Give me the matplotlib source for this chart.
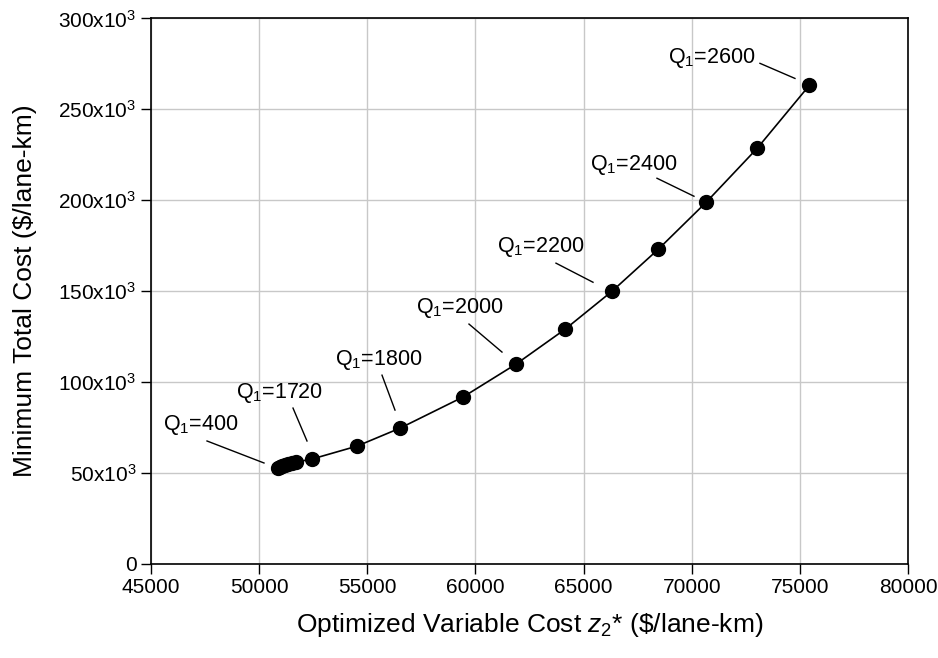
import matplotlib
matplotlib.use("Agg")
import matplotlib.pyplot as plt
from matplotlib.ticker import FuncFormatter

plt.rcParams['font.family'] = ['Liberation Sans', 'DejaVu Sans']
plt.rcParams['mathtext.fontset'] = 'custom'
plt.rcParams['mathtext.rm'] = 'Liberation Sans'
plt.rcParams['mathtext.it'] = 'Liberation Sans:italic'

# optimized variable cost z2* and minimum total cost, one point per Q1
q1 = [400, 600, 800, 1000, 1200, 1400, 1600, 1720, 1760, 1800, 1900, 2000,
      2100, 2200, 2300, 2400, 2500, 2600]
z2 = [50850, 50950, 51050, 51200, 51350, 51500, 51700, 52450, 54530, 56520,
      59430, 61880, 64150, 66320, 68450, 70670, 73030, 75440]
total = [52800, 53200, 53700, 54200, 54800, 55400, 56000, 57700, 64800, 74700,
         91800, 109900, 129100, 150000, 173000, 198900, 228600, 263200]

# label text, text position (baseline), leader start, leader end (data coords)
labels = [
    ('Q$_1$=400', (47312, 73600), (47589, 67600), (50224, 55500)),
    ('Q$_1$=1720', (50964, 91200), (51565, 85700), (52212, 67600)),
    ('Q$_1$=1800', (55541, 109300), (55680, 103800), (56281, 84600)),
    ('Q$_1$=2000', (59286, 137900), (59702, 131900), (61228, 116500)),
    ('Q$_1$=2200', (63031, 171400), (63725, 165400), (65436, 154900)),
    ('Q$_1$=2400', (67331, 216500), (68394, 212100), (70105, 202200)),
    ('Q$_1$=2600', (70937, 275300), (73156, 275300), (74774, 267000)),
]

fig = plt.figure(figsize=(9.38, 6.58), dpi=100)
ax = fig.add_axes([0.161, 0.143, 0.807, 0.829])

ax.plot(z2, total, color='black', lw=1.2, marker='o', markersize=10, zorder=3)

for text, pos, start, end in labels:
    ax.text(pos[0], pos[1], text, fontsize=15.5, ha='center', va='baseline')
    ax.plot([start[0], end[0]], [start[1], end[1]], color='black', lw=1)

ax.set_xlim(45000, 80000)
ax.set_ylim(0, 300000)
ax.set_xticks(range(45000, 80001, 5000))
ax.set_yticks(range(0, 300001, 50000))
ax.yaxis.set_major_formatter(FuncFormatter(
    lambda v, p: '0' if v == 0 else '%dx10$^3$' % (v // 1000)))
ax.grid(True, color='#c8c8c8', lw=1)
ax.set_axisbelow(True)
ax.tick_params(labelsize=15, direction='out', length=7, width=1, color='black')
for s in ax.spines.values():
    s.set_linewidth(1.2)

ax.set_xlabel(r'Optimized Variable Cost $\mathit{z}_{2}$* (\$/lane-km)', fontsize=19, labelpad=10)
ax.set_ylabel('Minimum Total Cost ($/lane-km)', fontsize=19, labelpad=15)

plt.savefig('out.png', dpi=100)
